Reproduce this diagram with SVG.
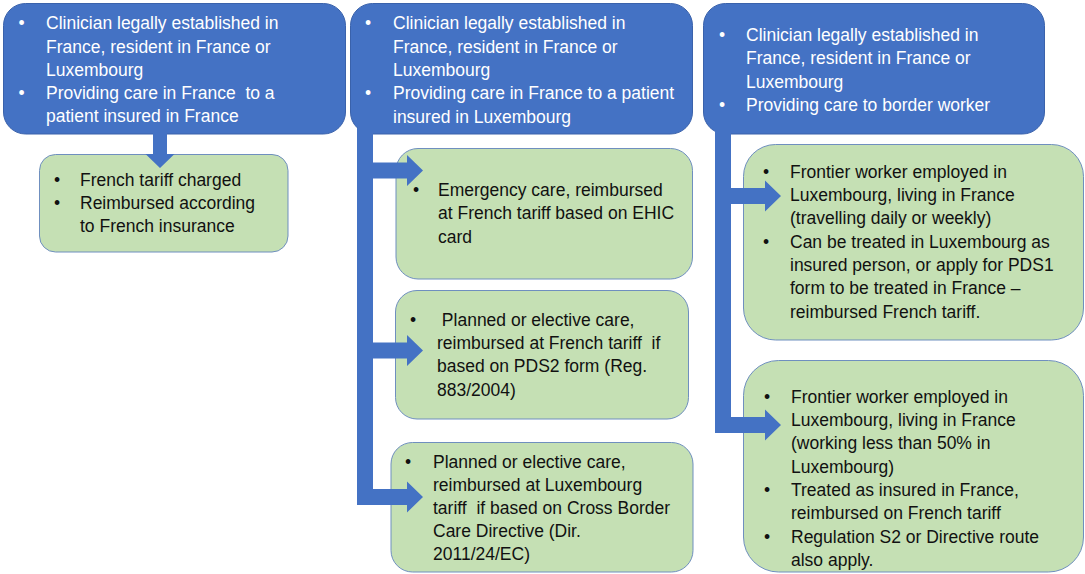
<svg xmlns="http://www.w3.org/2000/svg" width="1085" height="574" viewBox="0 0 1085 574">
<style>
.blue{fill:#4472C4;stroke:#3A62AB;stroke-width:1}
.green{fill:#C5E0B4;stroke:#6F8FBF;stroke-width:1}
.conn{fill:#4472C4;stroke:none}
text{font-family:"Liberation Sans",Arial,sans-serif;font-size:17.5px;white-space:pre}
.w{fill:#FFFFFF}
.k{fill:#111111}
.b{text-anchor:middle}
</style>
<rect width="1085" height="574" fill="#FFFFFF"/>
<g id="node-fr-fr">
<rect class="blue" x="3.5" y="3.5" width="342" height="130.5" rx="22"/>
<text class="w b"><tspan x="21.5" y="29">•</tspan><tspan x="21.5" y="99">•</tspan></text>
<text class="w"><tspan x="46" y="29">Clinician legally established in</tspan><tspan x="46" y="53">France, resident in France or</tspan><tspan x="46" y="76">Luxembourg</tspan><tspan x="46" y="99">Providing care in France  to a</tspan><tspan x="46" y="122">patient insured in France</tspan></text>
</g>
<g id="node-fr-lu">
<rect class="blue" x="350.5" y="3.5" width="342" height="130.5" rx="22"/>
<text class="w b"><tspan x="368" y="29">•</tspan><tspan x="368" y="99">•</tspan></text>
<text class="w"><tspan x="393" y="29">Clinician legally established in</tspan><tspan x="393" y="53">France, resident in France or</tspan><tspan x="393" y="76">Luxembourg</tspan><tspan x="393" y="99">Providing care in France to a patient</tspan><tspan x="393" y="123">insured in Luxembourg</tspan></text>
</g>
<g id="node-border">
<rect class="blue" x="703.5" y="3.5" width="341" height="130.5" rx="22"/>
<text class="w b"><tspan x="722" y="41">•</tspan><tspan x="722" y="111">•</tspan></text>
<text class="w"><tspan x="746" y="41">Clinician legally established in</tspan><tspan x="746" y="64">France, resident in France or</tspan><tspan x="746" y="88">Luxembourg</tspan><tspan x="746" y="111">Providing care to border worker</tspan></text>
</g>
<g id="node-french-tariff">
<rect class="green" x="39.5" y="154.5" width="248.5" height="97.5" rx="16"/>
<text class="k b"><tspan x="57" y="186">•</tspan><tspan x="57" y="209">•</tspan></text>
<text class="k"><tspan x="80" y="186">French tariff charged</tspan><tspan x="80" y="209">Reimbursed according</tspan><tspan x="80" y="232">to French insurance</tspan></text>
</g>
<g id="node-emergency">
<rect class="green" x="396" y="148.5" width="296.5" height="130.5" rx="22"/>
<text class="k b"><tspan x="416" y="196">•</tspan></text>
<text class="k"><tspan x="438" y="196">Emergency care, reimbursed</tspan><tspan x="438" y="219">at French tariff based on EHIC</tspan><tspan x="438" y="243">card</tspan></text>
</g>
<g id="node-pds2">
<rect class="green" x="395.5" y="290.5" width="293" height="128.5" rx="21.5"/>
<text class="k b"><tspan x="413" y="326">•</tspan></text>
<text class="k"><tspan x="437" y="326"> Planned or elective care,</tspan><tspan x="437" y="349">reimbursed at French tariff  if</tspan><tspan x="437" y="372">based on PDS2 form (Reg.</tspan><tspan x="437" y="396">883/2004)</tspan></text>
</g>
<g id="node-directive">
<rect class="green" x="391" y="442.5" width="302" height="129.5" rx="21.5"/>
<text class="k b"><tspan x="408" y="468">•</tspan></text>
<text class="k"><tspan x="433" y="468">Planned or elective care,</tspan><tspan x="433" y="491">reimbursed at Luxembourg</tspan><tspan x="433" y="514">tariff  if based on Cross Border</tspan><tspan x="433" y="537">Care Directive (Dir.</tspan><tspan x="433" y="560">2011/24/EC)</tspan></text>
</g>
<g id="node-frontier-daily">
<rect class="green" x="743.5" y="144.5" width="340" height="195.5" rx="32"/>
<text class="k b"><tspan x="766" y="178">•</tspan><tspan x="766" y="248">•</tspan></text>
<text class="k"><tspan x="790" y="178">Frontier worker employed in</tspan><tspan x="790" y="201">Luxembourg, living in France</tspan><tspan x="790" y="224">(travelling daily or weekly)</tspan><tspan x="790" y="248">Can be treated in Luxembourg as</tspan><tspan x="790" y="271">insured person, or apply for PDS1</tspan><tspan x="790" y="294">form to be treated in France –</tspan><tspan x="790" y="318">reimbursed French tariff.</tspan></text>
</g>
<g id="node-frontier-part">
<rect class="green" x="743.5" y="360.5" width="340" height="211.5" rx="35"/>
<text class="k b"><tspan x="767" y="403">•</tspan><tspan x="767" y="496">•</tspan><tspan x="767" y="543">•</tspan></text>
<text class="k"><tspan x="791" y="403">Frontier worker employed in</tspan><tspan x="791" y="426">Luxembourg, living in France</tspan><tspan x="791" y="449">(working less than 50% in</tspan><tspan x="791" y="473">Luxembourg)</tspan><tspan x="791" y="496">Treated as insured in France,</tspan><tspan x="791" y="519">reimbursed on French tariff</tspan><tspan x="791" y="543">Regulation S2 or Directive route</tspan><tspan x="791" y="566">also apply.</tspan></text>
</g>
<g id="connectors">
<path class="conn" d="M153,128 H167 V154 H174.5 L160,168 L145.5,154 H153 Z"/>
<path class="conn" d="M357,128 H373 V162.5 H407 V155 L423,170.5 L407,186 V178.5 H373 V342.5 H407 V335 L423,350.5 L407,366 V358.5 H373 V489 H407 V481.5 L423,497 L407,512.5 V505 H357 Z"/>
<path class="conn" d="M715,128 H731 V188 H765 V180.5 L781,196 L765,211.5 V204 H731 V417 H765 V409.5 L781,425 L765,440.5 V433 H715 Z"/>
</g>
</svg>
